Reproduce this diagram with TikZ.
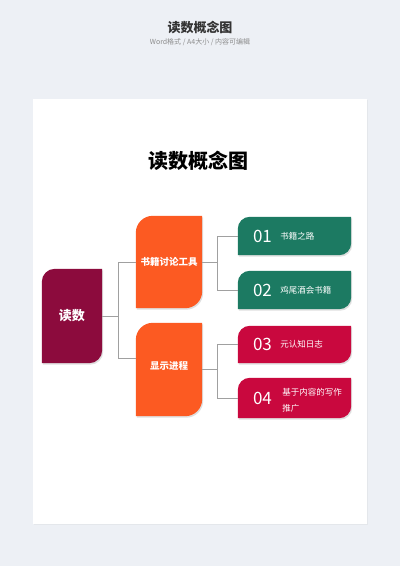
\documentclass[tikz,border=0pt]{standalone}
\usepackage{fontspec}
\setmainfont{Noto Sans CJK SC}
\usetikzlibrary{positioning,backgrounds,shadows}

\definecolor{pagebg}{HTML}{EDF0F5}
\definecolor{rootred}{HTML}{8C0B3D}
\definecolor{toolorange}{HTML}{FC5A22}
\definecolor{leafgreen}{HTML}{1C7A62}
\definecolor{leafred}{HTML}{C9083E}
\definecolor{linkgray}{HTML}{A0A0A0}

\tikzset{
  rootbox/.style={minimum width=60pt,minimum height=94pt,inner sep=0pt,text=white,
    font=\bfseries\fontsize{13}{13}\selectfont},
  toolbox/.style={minimum width=66pt,minimum height=92pt,inner sep=0pt,text=white,
    font=\bfseries\fontsize{9.5}{9.5}\selectfont},
  leafbox/.style={minimum width=113pt,minimum height=#1,inner sep=0pt},
  num/.style={inner sep=0pt,anchor=west,text=white,font=\fontsize{17}{17}\selectfont},
  lbl/.style={inner sep=0pt,text=white,align=left,font=\fontsize{8.5}{16}\selectfont},
  link/.style={draw=linkgray,line width=0.7pt},
  leafshadow/.style={drop shadow={opacity=0.25,shadow xshift=1pt,shadow yshift=-1.5pt}}
}

\begin{document}
\begin{tikzpicture}[x=1pt,y=1pt]
\useasboundingbox (0,0) rectangle (400,566);

% heading above the page
\node[text=black!80,font=\bfseries\fontsize{13}{13}\selectfont] (head) at (200,538) {读数概念图};
\node[text=black!45,font=\fontsize{7}{7}\selectfont] (sub) at (200,524) {Word格式 / A4大小 / 内容可编辑};

\node[font=\bfseries\fontsize{20}{20}\selectfont] (title) at (198.5,405) {读数概念图};

\node[rootbox] (root) at (72,250) {读数};
\node[toolbox] (o1) at (169,304) {书籍讨论工具};
\node[toolbox,minimum height=93pt] (o2) at (169,196.5) {};
\node[text=white,font=\bfseries\fontsize{9.5}{9.5}\selectfont] (o2t) at (169,200) {显示进程};

\node[leafbox=38pt] (l1) at (294.5,330) {};
\node[leafbox=38pt] (l2) at (294.5,276) {};
\node[leafbox=37pt] (l3) at (294.5,221.5) {};
\node[leafbox=40pt] (l4) at (294.5,168) {};

\node[num] (n1) at ([xshift=15pt]l1.west) {01};
\node[lbl,right=8pt of n1] (t1) {书籍之路};
\node[num] (n2) at ([xshift=15pt]l2.west) {02};
\node[lbl,right=8pt of n2] (t2) {鸡尾酒会书籍};
\node[num] (n3) at ([xshift=15pt]l3.west) {03};
\node[lbl,right=8pt of n3] (t3) {元认知日志};
\node[num] (n4) at ([xshift=15pt]l4.west) {04};
\node[lbl,right=10pt of n4,yshift=-2pt] (t4) {基于内容的写作\\推广};

\begin{scope}[on background layer]
  \fill[pagebg] (0,0) rectangle (400,566);
  \fill[white,drop shadow={opacity=0.08,shadow xshift=1pt,shadow yshift=-1pt}]
    (32.5,42) rectangle (367,466.5);
  \foreach \n/\c/\r in {root/rootred/13,o1/toolorange/17,o2/toolorange/17,
      l1/leafgreen/12,l2/leafgreen/12,l3/leafred/12,l4/leafred/12}
    \fill[\c,leafshadow] (\n.south west) -- ([yshift=-\r]\n.north west)
      arc[start angle=180,end angle=90,radius=\r] -- (\n.north east)
      -- ([yshift=\r]\n.south east) arc[start angle=0,end angle=-90,radius=\r] -- cycle;
\end{scope}

\draw[link] (root.east) -- ++(16,0) coordinate (j1) |- (o1.west);
\draw[link] (j1) |- ([yshift=11.5]o2.west);
\draw[link] (o1.east) -- ++(15,0) coordinate (j2) |- (l1.west);
\draw[link] (j2) |- (l2.west);
\draw[link] (o2.east) -- ++(15,0) coordinate (j3) |- (l3.west);
\draw[link] (j3) |- (l4.west);

\end{tikzpicture}
\end{document}
